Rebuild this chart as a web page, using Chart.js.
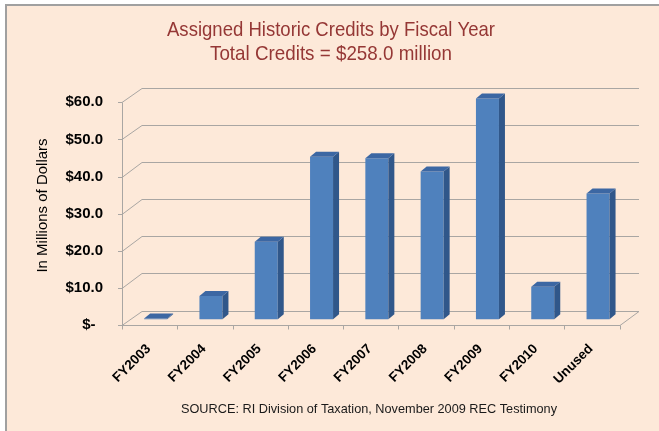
<!DOCTYPE html>
<html>
<head>
<meta charset="utf-8">
<script src="https://cdn.jsdelivr.net/npm/chart.js@4.4.1/dist/chart.umd.min.js"></script>
<style>
  html, body { margin: 0; padding: 0; background: #ffffff; }
  canvas { display: block; }
</style>
</head>
<body>
<canvas id="c" width="659" height="431"></canvas>
<script>
// ---- data ----
const categories = ['FY2003', 'FY2004', 'FY2005', 'FY2006', 'FY2007', 'FY2008', 'FY2009', 'FY2010', 'Unused'];
const credits = [0.2, 6.3, 20.9, 43.8, 43.4, 39.8, 59.5, 8.8, 33.9];
const yTicks = [0, 10, 20, 30, 40, 50, 60];
const titleLines = ['Assigned Historic Credits by Fiscal Year', 'Total Credits = $258.0 million'];
const yTitle = 'In Millions of Dollars';
const sourceText = 'SOURCE: RI Division of Taxation, November 2009 REC Testimony';

// ---- style ----
const BG = '#FDE9D9';
const FRONT = '#4F81BD';
const SIDE = '#30578A';
const TOP = '#3C67A3';
const GRID = '#A9A6A3';
const TITLE_COLOR = '#953735';
const DEPTH_DX = 6, DEPTH_DY = -5;

function fitText(ctx, text, cx, baseline, targetW) {
  const w = ctx.measureText(text).width;
  const sx = Math.min(1.15, targetW / w);
  ctx.save();
  ctx.translate(cx, baseline);
  ctx.scale(sx, 1);
  ctx.textAlign = 'center';
  ctx.textBaseline = 'alphabetic';
  ctx.fillText(text, 0, 0);
  ctx.restore();
}

const deco = {
  id: 'deco',
  beforeDraw(chart) {
    const ctx = chart.ctx;
    ctx.save();
    ctx.fillStyle = '#ffffff';
    ctx.fillRect(0, 0, chart.width, chart.height);
    ctx.fillStyle = BG;
    ctx.fillRect(5, 5, chart.width - 5, chart.height - 5);
    ctx.fillStyle = '#A0A0A0';
    ctx.fillRect(5, 4, chart.width - 5, 2);
    ctx.fillRect(5, 4, 2, chart.height - 4);
    ctx.restore();
  },
  beforeDatasetsDraw(chart) {
    const ctx = chart.ctx;
    const xs = chart.scales.x, yl = chart.scales.yl, yb = chart.scales.yb;
    const fl = xs.left - 6, fr = xs.right - 5.7;
    const bl = xs.left + 14, br = xs.right + 13.3;
    ctx.save();
    ctx.strokeStyle = GRID;
    ctx.lineWidth = 1;
    yTicks.forEach(v => {
      const yB = Math.round(yb.getPixelForValue(v)) + 0.5;
      const yF = Math.round(yl.getPixelForValue(v)) + 0.5;
      ctx.beginPath();
      ctx.moveTo(fl, yF);
      ctx.lineTo(bl, yB);
      ctx.lineTo(br, yB);
      ctx.stroke();
      ctx.beginPath();
      ctx.moveTo(fl - 4, yF);
      ctx.lineTo(fl, yF);
      ctx.stroke();
    });
    const y0F = Math.round(yl.getPixelForValue(0)) + 0.5;
    const yTopF = Math.round(yl.getPixelForValue(60)) + 0.5;
    ctx.beginPath();
    ctx.moveTo(Math.round(fl) + 0.5, yTopF);
    ctx.lineTo(Math.round(fl) + 0.5, y0F);
    ctx.stroke();
    const y0B = Math.round(yb.getPixelForValue(0)) + 0.5;
    ctx.beginPath();
    ctx.moveTo(fl, y0F);
    ctx.lineTo(fr, y0F);
    ctx.lineTo(br, y0B);
    ctx.stroke();
    const step = xs.getPixelForValue(1) - xs.getPixelForValue(0);
    for (let k = 0; k <= categories.length; k++) {
      const x = Math.round(fl + k * step) + 0.5;
      ctx.beginPath();
      ctx.moveTo(x, y0F);
      ctx.lineTo(x, y0F + 4);
      ctx.stroke();
    }
    ctx.restore();
  },
  afterDatasetsDraw(chart) {
    const ctx = chart.ctx;
    const meta = chart.getDatasetMeta(0);
    ctx.save();
    meta.data.forEach(bar => {
      const p = bar.getProps(['x', 'y', 'base', 'width'], true);
      const l = p.x - p.width / 2, r = p.x + p.width / 2;
      const t = Math.min(p.y, p.base - 0.8), b = p.base;
      ctx.fillStyle = SIDE;
      ctx.beginPath();
      ctx.moveTo(r, t);
      ctx.lineTo(r + DEPTH_DX, t + DEPTH_DY);
      ctx.lineTo(r + DEPTH_DX, b + DEPTH_DY);
      ctx.lineTo(r, b);
      ctx.closePath();
      ctx.fill();
      ctx.fillStyle = TOP;
      ctx.beginPath();
      ctx.moveTo(l, t);
      ctx.lineTo(l + DEPTH_DX, t + DEPTH_DY);
      ctx.lineTo(r + DEPTH_DX, t + DEPTH_DY);
      ctx.lineTo(r, t);
      ctx.closePath();
      ctx.fill();
    });
    ctx.restore();
  },
  afterDraw(chart) {
    const ctx = chart.ctx;
    ctx.save();
    ctx.fillStyle = TITLE_COLOR;
    ctx.font = '21px "Liberation Sans Narrow", "Liberation Sans", sans-serif';
    fitText(ctx, titleLines[0], 331, 36, 328);
    fitText(ctx, titleLines[1], 331, 59.5, 242);
    ctx.fillStyle = '#1a1a1a';
    ctx.font = '13.5px "Liberation Sans Narrow", "Liberation Sans", sans-serif';
    fitText(ctx, sourceText, 369, 413, 376);
    ctx.restore();
  }
};

new Chart(document.getElementById('c'), {
  type: 'bar',
  data: {
    labels: categories,
    datasets: [{
      data: credits,
      backgroundColor: FRONT,
      borderWidth: 0,
      categoryPercentage: 1,
      barPercentage: 0.416,
      yAxisID: 'y'
    }]
  },
  plugins: [deco],
  options: {
    responsive: false,
    devicePixelRatio: 1,
    animation: false,
    layout: { padding: { top: 86, right: 33.3, left: 0, bottom: 0 } },
    plugins: { legend: { display: false }, tooltip: { enabled: false }, title: { display: false } },
    scales: {
      x: {
        type: 'category',
        grid: { display: false, drawTicks: false, tickLength: 0 },
        border: { display: false },
        afterFit(scale) { scale.height = 106; },
        ticks: {
          autoSkip: false,
          minRotation: 45,
          maxRotation: 45,
          labelOffset: -7,
          padding: 16,
          color: '#000000',
          font: { family: '"Liberation Sans", Arial, sans-serif', size: 13.5, weight: 'bold' }
        }
      },
      y: { type: 'linear', display: false, min: -1.536, max: 62.85 },
      yb: { type: 'linear', display: false, min: -3.906, max: 60.48 },
      yl: {
        type: 'linear',
        position: 'left',
        min: 0,
        max: 64.386,
        afterBuildTicks(scale) { scale.ticks = yTicks.map(v => ({ value: v })); },
        afterFit(scale) { scale.width = 128; },
        grid: { display: false, drawTicks: false, tickLength: 0 },
        border: { display: false },
        ticks: {
          padding: 25,
          color: '#000000',
          font: { family: '"Liberation Sans", Arial, sans-serif', size: 15, weight: 'bold' },
          callback: v => v === 0 ? '$-\u2002' : '$' + v.toFixed(1)
        },
        title: {
          display: true,
          text: yTitle,
          color: '#000000',
          padding: { top: 33.5, bottom: 0 },
          font: { family: '"Liberation Sans", Arial, sans-serif', size: 15 }
        }
      }
    }
  }
});
</script>
</body>
</html>
